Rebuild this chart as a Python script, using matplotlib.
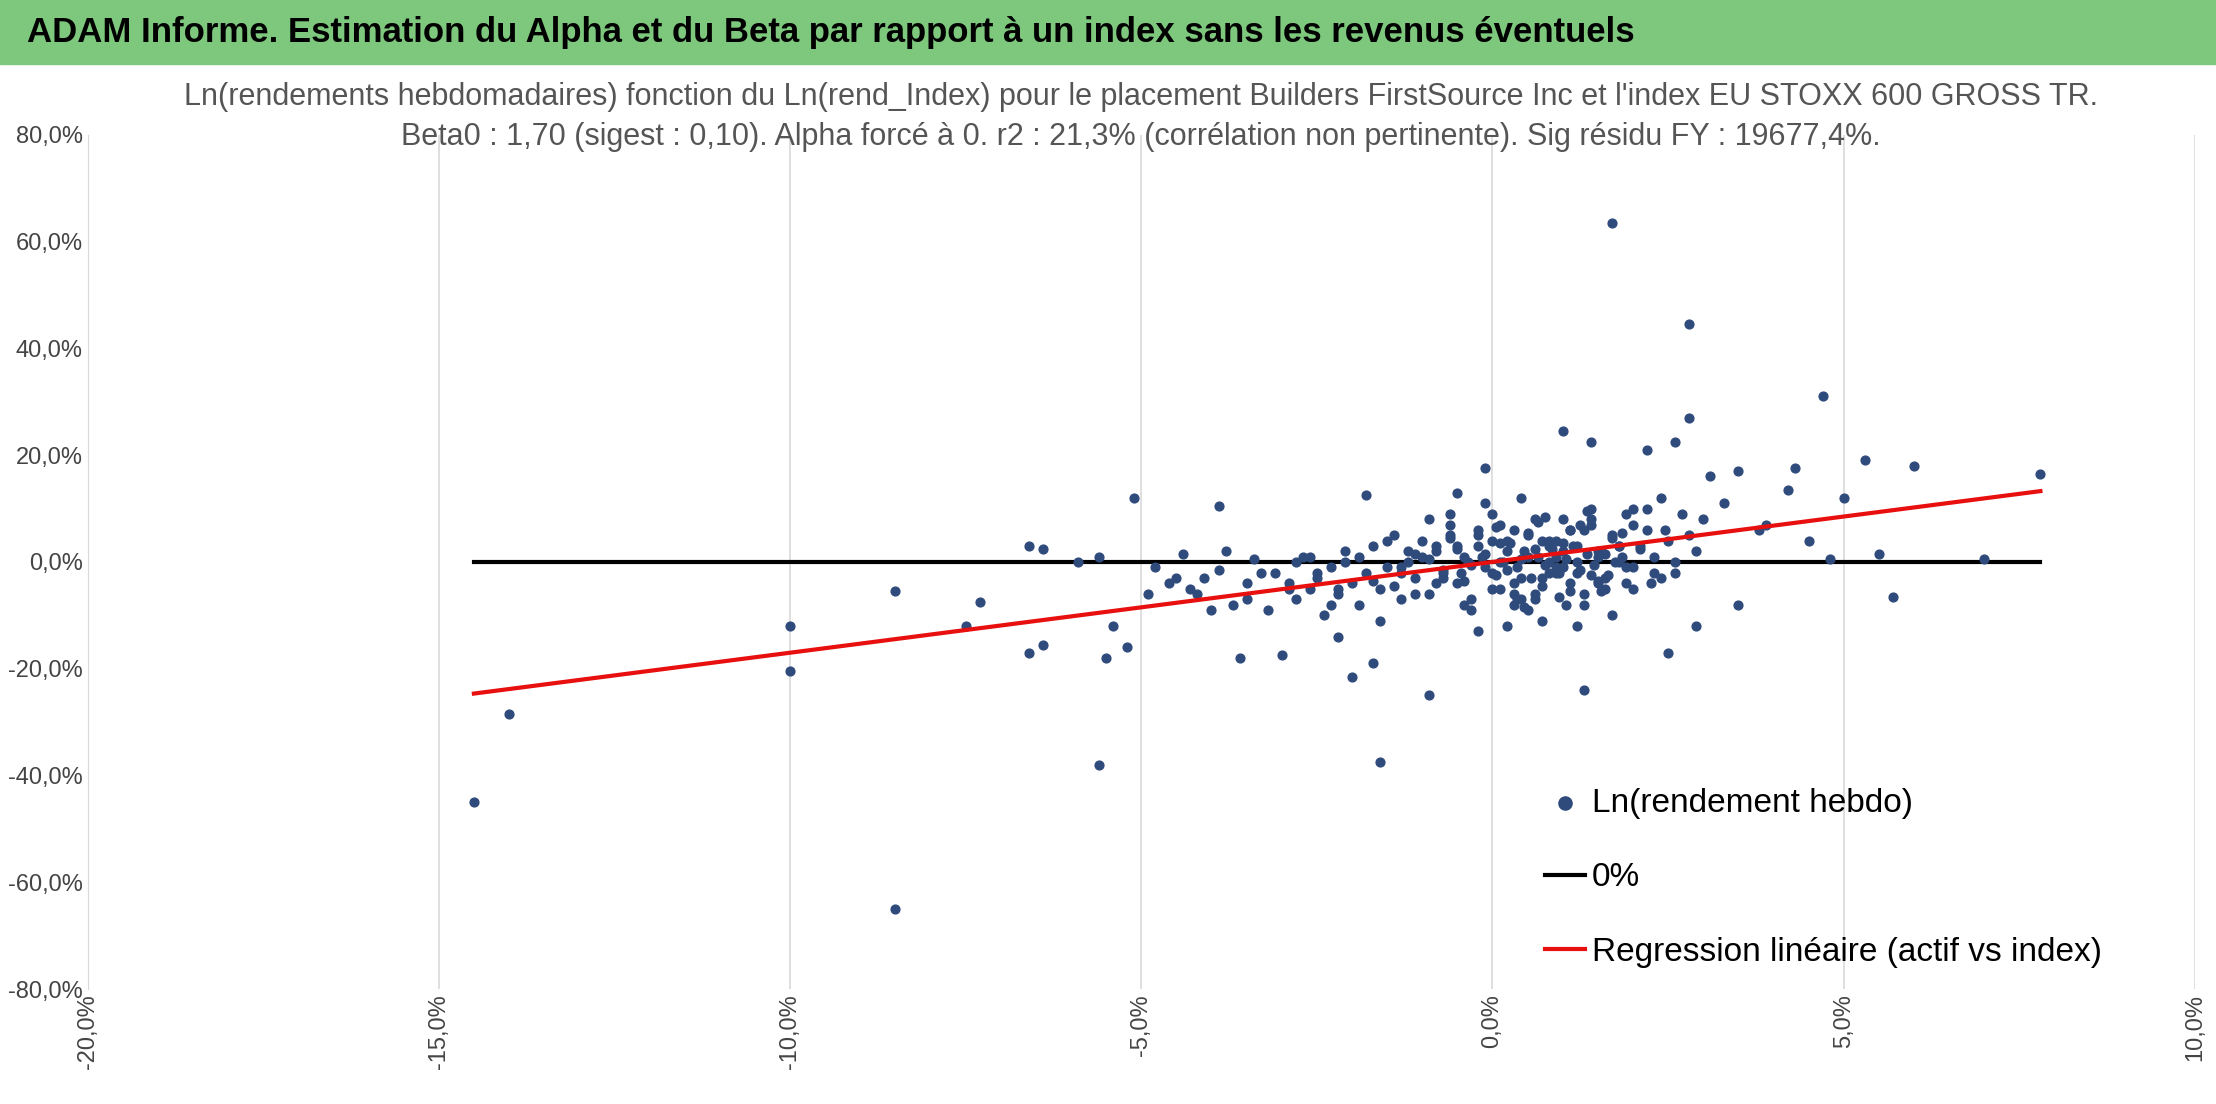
import matplotlib
matplotlib.use("Agg")
import matplotlib.pyplot as plt
import numpy as np
from matplotlib.ticker import FuncFormatter

plt.rcParams['font.family'] = ['Liberation Sans', 'DejaVu Sans']

# weekly log returns, in %  (index x, asset y)
x_out = [-14.5, -14.0, -10.0, -10.0, -8.5, -8.5, -7.5, -7.3, -6.6, -6.4, -6.6, -6.4, -5.9, -5.6,
         -5.6, -5.5, -5.4, -5.2, -5.1, -3.9, -1.6, 1.7, 2.8, 4.7, 2.8, 5.3, 6.0, 7.8, 1.0, 1.4,
         2.2, -0.1, -0.9, 1.3, 2.5, 7.0, 5.7, 5.5, 5.0, 4.3, 4.2, 3.5, 4.5, 4.8, 3.8, 3.5, 2.9,
         -2.0, -1.8, -3.6, -3.0, -4.9, -4.5, -4.0, -3.8, -2.6, -2.2, -1.7, 3.1, 3.3, 2.6, 3.9]
y_out = [-45.0, -28.5, -12.0, -20.5, -5.5, -65.0, -12.0, -7.5, 3.0, 2.5, -17.0, -15.5, 0.0, 1.0,
         -38.0, -18.0, -12.0, -16.0, 12.0, 10.5, -37.5, 63.5, 44.5, 31.0, 27.0, 19.0, 18.0, 16.5, 24.5, 22.5,
         21.0, 17.5, -25.0, -24.0, -17.0, 0.5, -6.5, 1.5, 12.0, 17.5, 13.5, 17.0, 4.0, 0.5, 6.0, -8.0, -12.0,
         -21.5, 12.5, -18.0, -17.5, -6.0, -3.0, -9.0, 2.0, 1.0, -14.0, -19.0, 16.0, 11.0, 22.5, 7.0]

x_core = [-4.8, -4.6, -4.4, -4.2, -4.1, -3.9, -3.7, -3.5, -3.4, -3.2, -3.1, -2.9, -2.8, -2.7, -2.5,
          -2.4, -2.3, -2.2, -2.1, -2.0, -1.9, -1.8, -1.7, -1.6, -1.5, -1.4, -1.3, -1.2, -1.1, -1.0,
          -0.9, -0.8, -0.7, -0.6, -0.5, -0.4, -0.3, -0.2, -0.1, 0.0, 0.1, 0.2, 0.3, 0.4, 0.5,
          0.6, 0.7, 0.8, 0.9, 1.0, 1.1, 1.2, 1.3, 1.4, 1.5, 1.6, 1.7, 1.8, 1.9, 2.0,
          2.1, 2.2, 2.3, 2.4, 2.5, 2.6, 2.7, 2.8, 2.9, 3.0, -1.0, -0.5, 0.0, 0.5, 1.0,
          1.5, 2.0, -1.5, -0.2, 0.3, 0.8, 1.2, 0.6, -0.6, 0.9, 1.6, -0.3, 0.2, 0.7, 1.1,
          -2.6, -1.9, -1.3, -0.8, -0.4, 0.1, 0.4, 0.9, 1.4, 1.8, 2.3, -3.3, -2.8, -2.3, -1.2,
          -0.7, 0.0, 0.6, 1.3, 2.0, 2.6, -1.1, -0.1, 0.5, 1.0, 1.7, -0.9, 0.2, 0.8, 1.5,
          -1.6, -0.6, 0.3, 1.1, 2.2, -2.1, -0.2, 0.4, 1.2, 1.9, -0.5, 0.1, 0.7, 1.4, 2.4]
y_core = [-1.0, -4.0, 1.5, -6.0, -3.0, -1.5, -8.0, -4.0, 0.5, -9.0, -2.0, -5.0, -7.0, 1.0, -3.0,
          -10.0, -1.0, -6.0, 2.0, -4.0, -8.0, -2.0, 3.0, -5.0, -1.0, 5.0, -7.0, 0.0, -3.0, 4.0,
          -6.0, 2.0, -2.0, 7.0, -4.0, 1.0, -9.0, 3.0, -1.0, 9.0, -5.0, 2.0, 6.0, -3.0, 1.0,
          -7.0, 4.0, 0.0, -2.0, 8.0, -4.0, 3.0, -6.0, 10.0, 1.0, -3.0, 5.0, 0.0, 9.0, -5.0,
          3.0, 6.0, -2.0, 12.0, 4.0, 0.0, 9.0, 5.0, 2.0, 8.0, 1.0, 3.0, -2.0, 5.0, -1.0,
          2.0, 7.0, 4.0, 6.0, -4.0, 3.0, -2.0, -6.0, 5.0, 1.0, -5.0, -7.0, 4.0, -3.0, 6.0,
          -5.0, 1.0, -1.0, 3.0, -8.0, 0.0, -7.0, -1.0, 7.0, 3.0, 1.0, -2.0, 0.0, -8.0, 2.0,
          -3.0, 4.0, 8.0, -8.0, 10.0, -2.0, -6.0, 11.0, -9.0, 2.0, -10.0, 8.0, -12.0, 4.0, -4.0,
          -11.0, 9.0, -8.0, 6.0, 10.0, 0.0, -13.0, 12.0, -12.0, -1.0, 13.0, 7.0, -11.0, 8.0, -3.0]

# densest part of the cloud, around (0.5 %, 0 %)
x_dense = [-0.9, -0.7, -0.5, -0.3, -0.1, 0.05, 0.15, 0.25, 0.35, 0.45, 0.55, 0.65, 0.75, 0.85, 0.95,
           1.05, 1.15, 1.25, 1.35, 1.45, 1.55, 1.65, 1.75, 1.85, -0.8, -0.6, -0.4, -0.2, 0.0, 0.1,
           0.3, 0.5, 0.7, 0.9, 1.1, 1.3, 1.5, 1.7, 1.9, 2.1, -0.35, -0.15, 0.2, 0.4, 0.6, 0.8,
           1.0, 1.2, 1.4, 1.6, 1.8, 2.0, -0.45, 0.05, 0.35, 0.65, 0.95, 1.25, 1.55, 1.85, -1.3,
           -1.7, -2.2, -2.5, -2.9, -3.5, -4.3, -1.1, -1.4, 0.45, 0.75, 1.05, 1.35, 2.25, 2.45]
y_dense = [0.5, -1.5, 2.5, -0.5, 1.5, -2.5, 0.0, 3.5, -1.0, 2.0, -3.0, 1.0, -0.5, 2.5, -2.0,
           0.5, 3.0, -1.5, 1.5, -0.5, 2.0, -2.5, 0.0, 1.0, -4.0, 4.5, -3.5, 5.0, -5.0, 3.5,
           -6.0, 5.5, -4.5, 4.0, -5.5, 6.0, -3.5, 4.5, -4.0, 2.5, 0.0, 1.0, -1.5, 0.5, 2.5, -2.0,
           3.5, 0.0, -2.5, 1.5, 3.0, -1.0, -2.0, 6.5, -7.0, 7.5, -6.5, 7.0, -5.5, 5.5, -2.0,
           -3.5, -5.0, -2.0, -4.0, -7.0, -5.0, 1.5, -4.5, -8.5, 8.5, -8.0, 9.5, -4.0, 6.0]

beta = 1.70
x_line = [-14.5, 7.8]

fig = plt.figure(figsize=(22.16, 11.04), dpi=100)
fig.patches.append(plt.Rectangle((0, 0.942), 1, 0.058, transform=fig.transFigure,
                                 color='#7dc87d', zorder=0))
fig.text(0.012, 0.971, "ADAM Informe. Estimation du Alpha et du Beta par rapport à un index sans les revenus éventuels",
         fontsize=25, fontweight='bold', va='center', ha='left')

ax = fig.add_axes([0.0395, 0.104, 0.951, 0.774])
xs = np.array(x_out + x_core + x_dense)
ys = np.array(y_out + y_core + y_dense)
ax.scatter(xs, ys, s=40, color='#2f4b7c', zorder=3, label='Ln(rendement hebdo)')
ax.plot(x_line, [0, 0], color='black', lw=3, zorder=2, label='0%')
ax.plot(x_line, [beta * v for v in x_line], color='#e8100f', lw=3, zorder=4,
        label='Regression linéaire (actif vs index)')

ax.set_xlim(-20, 10)
ax.set_ylim(-80, 80)
ax.set_xticks(np.arange(-20, 11, 5))
ax.set_yticks(np.arange(-80, 81, 20))
fmt = FuncFormatter(lambda v, p: ("%.1f%%" % v).replace('.', ','))
ax.xaxis.set_major_formatter(fmt)
ax.yaxis.set_major_formatter(fmt)
ax.tick_params(axis='x', rotation=90, labelsize=17, length=0, colors='#444444')
ax.tick_params(axis='y', labelsize=17, length=0, colors='#444444')
ax.grid(axis='x', color='#d9d9d9', lw=1.2)
for s in ['top', 'right', 'bottom']:
    ax.spines[s].set_visible(False)
ax.spines['left'].set_color('#d9d9d9')

ax.set_title("Ln(rendements hebdomadaires) fonction du Ln(rend_Index) pour le placement Builders FirstSource Inc et l'index EU STOXX 600 GROSS TR.\n"
             "Beta0 : 1,70 (sigest : 0,10). Alpha forcé à 0. r2 : 21,3% (corrélation non pertinente). Sig résidu FY : 19677,4%.",
             fontsize=22, color='#555555', pad=-4, linespacing=1.4, y=0.995)

ax.legend(loc='lower right', bbox_to_anchor=(0.97, -0.01), frameon=False, fontsize=24,
          handlelength=1.2, handletextpad=0.2, labelspacing=1.3, markerscale=1.5)

fig.savefig("out.png")
